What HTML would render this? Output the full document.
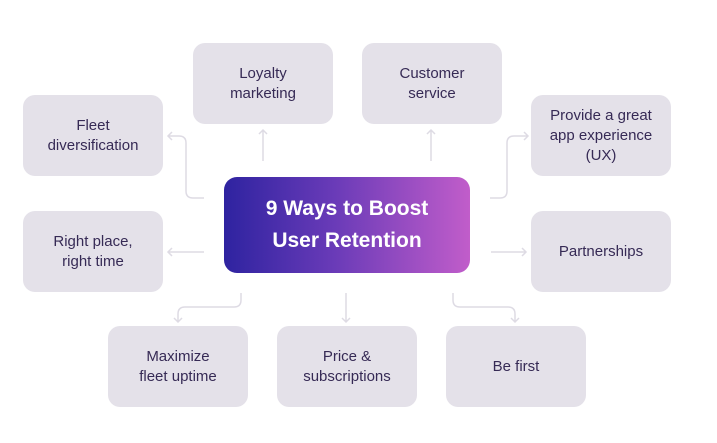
<!DOCTYPE html>
<html><head><meta charset="utf-8"><style>
body{margin:0;width:717px;height:443px;background:#fff;position:relative;overflow:hidden;font-family:"Liberation Sans",sans-serif}
.b{position:absolute;width:140px;height:81px;background:#e4e1e9;border-radius:12px;display:flex;align-items:center;justify-content:center;text-align:center;color:#362a55;font-size:15px;line-height:20px}
.c{position:absolute;left:224px;top:177px;width:246px;height:96px;border-radius:13px;background:linear-gradient(90deg,#2e23a0,#6a3bb8 45%,#c15dca);display:flex;align-items:center;justify-content:center;text-align:center;color:#fff;font-size:21px;font-weight:bold;line-height:32px}
svg{position:absolute;left:0;top:0}
</style></head><body>
<svg width="717" height="443" fill="none" stroke="#dedbe4" stroke-width="1.5">
<path d="M204 198H193Q186 198 186 191V143Q186 136 179 136H168M172 132L168 136L172 140"/>
<path d="M263 161V130M259 134L263 130L267 134"/>
<path d="M431 161V130M427 134L431 130L435 134"/>
<path d="M490 198H500Q507 198 507 191V143Q507 136 514 136H528M524 132L528 136L524 140"/>
<path d="M204 252H168M172 248L168 252L172 256"/>
<path d="M491 252H526M522 248L526 252L522 256"/>
<path d="M241 293V300Q241 307 234 307H185Q178 307 178 314V322M174 318L178 322L182 318"/>
<path d="M346 293V322M342 318L346 322L350 318"/>
<path d="M453 293V300Q453 307 460 307H508Q515 307 515 314V322M511 318L515 322L519 318"/>
</svg>
<div class="b" style="left:193px;top:43px">Loyalty<br>marketing</div>
<div class="b" style="left:362px;top:43px">Customer<br>service</div>
<div class="b" style="left:23px;top:95px">Fleet<br>diversification</div>
<div class="b" style="left:531px;top:95px">Provide a great<br>app experience<br>(UX)</div>
<div class="b" style="left:23px;top:211px">Right place,<br>right time</div>
<div class="b" style="left:531px;top:211px">Partnerships</div>
<div class="b" style="left:108px;top:326px">Maximize<br>fleet uptime</div>
<div class="b" style="left:277px;top:326px">Price &amp;<br>subscriptions</div>
<div class="b" style="left:446px;top:326px">Be first</div>
<div class="c">9 Ways to Boost<br>User Retention</div>
</body></html>
